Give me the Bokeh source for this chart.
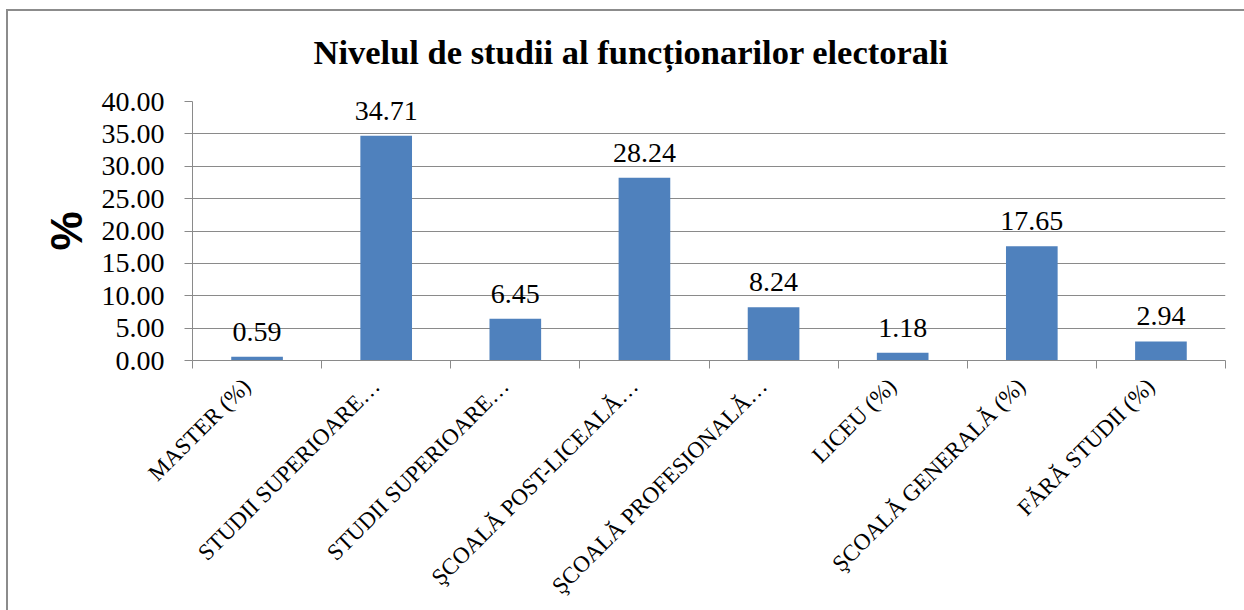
from bokeh.plotting import figure
from bokeh.models import ColumnDataSource, FixedTicker, PrintfTickFormatter, Range1d
from bokeh.core.properties import value
from bokeh.embed import file_html
from bokeh.resources import INLINE

categories = ["MASTER (%)", "STUDII SUPERIOARE…", "STUDII SUPERIOARE…",
              "ŞCOALĂ POST-LICEALĂ…", "ŞCOALĂ PROFESIONALĂ…", "LICEU (%)",
              "ŞCOALĂ GENERALĂ (%)", "FĂRĂ STUDII (%)"]
values = [0.59, 34.71, 6.45, 28.24, 8.24, 1.18, 17.65, 2.94]
y_ticks = [0, 5, 10, 15, 20, 25, 30, 35, 40]
title_text = "Nivelul de studii al funcționarilor electorali"

n = len(categories)
xs = [i + 0.5 for i in range(n)]
label_ticks = [round(x - 0.08, 4) for x in xs]
src = ColumnDataSource(dict(x=xs, top=values, lab=["%.2f" % v for v in values]))

GRAY = "#8a8a8a"
SERIF = "Liberation Serif"

p = figure(width=1244, height=610, output_backend="svg", toolbar_location=None,
           x_range=Range1d(0, n), y_range=Range1d(0, 40),
           min_border_left=192, min_border_right=19, min_border_top=101, min_border_bottom=250,
           title=title_text)
p.border_fill_color = None
p.background_fill_color = "white"
p.outline_line_color = None
# outer chart-area border: left and top edges
p.styles = {
    "background-color": "white",
    "background-image": "linear-gradient(#8c8c8c,#8c8c8c), linear-gradient(#8c8c8c,#8c8c8c)",
    "background-size": "2px 601px, 1238px 2px",
    "background-position": "6px 9px, 6px 9px",
    "background-repeat": "no-repeat, no-repeat",
}

p.title.text_font = SERIF
p.title.text_font_size = "34.5px"
p.title.text_font_style = "bold"
p.title.align = "left"
p.title.offset = 121
p.title.standoff = 61
p.title.text_color = "black"

p.vbar(x="x", top="top", width=0.4, source=src, fill_color="#4F81BD", line_color=None)
p.text(x="x", y="top", text="lab", source=src, text_font=value(SERIF), text_font_size="28px",
       text_align="center", text_baseline="alphabetic", y_offset=-25, text_color="black")

# y axis
p.yaxis.ticker = FixedTicker(ticks=y_ticks)
p.yaxis.formatter = PrintfTickFormatter(format="%.2f")
p.yaxis.major_label_text_font = SERIF
p.yaxis.major_label_text_font_size = "28px"
p.yaxis.major_label_text_color = "black"
p.yaxis.major_tick_out = 8
p.yaxis.major_tick_in = 0
p.yaxis.minor_tick_line_color = None
p.yaxis.major_label_standoff = 20
p.yaxis.axis_line_color = GRAY
p.yaxis.major_tick_line_color = GRAY
p.yaxis.axis_label = "%"
p.yaxis.axis_label_text_font = "Liberation Sans"
p.yaxis.axis_label_text_font_size = "44px"
p.yaxis.axis_label_text_font_style = "bold"
p.yaxis.axis_label_text_color = "black"
p.yaxis.axis_label_standoff = 8

# x axis: labels near centres, ticks at category boundaries
p.xaxis.ticker = FixedTicker(ticks=label_ticks, minor_ticks=list(range(n + 1)))
p.xaxis.major_label_overrides = {t: c for t, c in zip(label_ticks, categories)}
p.xaxis.major_label_orientation = 0.785398
p.xaxis.major_label_text_font = SERIF
p.xaxis.major_label_text_font_size = "23px"
p.xaxis.major_label_text_color = "black"
p.xaxis.major_label_standoff = 14
p.xaxis.major_tick_line_color = None
p.xaxis.minor_tick_out = 8
p.xaxis.minor_tick_in = 0
p.xaxis.minor_tick_line_color = GRAY
p.xaxis.axis_line_color = GRAY

p.xgrid.grid_line_color = None
p.ygrid.grid_line_color = GRAY
p.ygrid.grid_line_width = 1

open("out.html", "w").write(file_html(p, INLINE))
